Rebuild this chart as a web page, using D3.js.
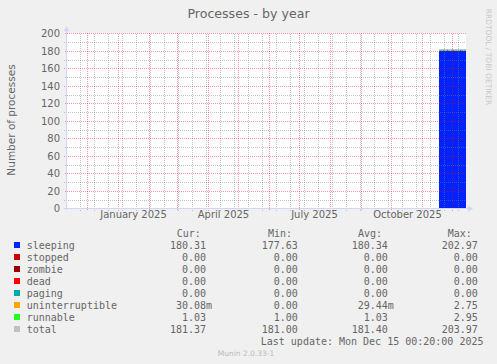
<!DOCTYPE html>
<html>
<head>
<meta charset="utf-8">
<script src="https://cdn.jsdelivr.net/npm/d3@7"></script>
<style>
  body { margin: 0; background: #f0f0f0; }
  svg { display: block; }
</style>
</head>
<body>
<div id="chart"></div>
<script>

// ---- data ----
var graphStart = "2024-11-10T00:20:00",
    graphEnd = "2025-12-15T00:20:00",
    firstDay = "2025-11-18T00:20:00";

var seriesNames = ["sleeping", "stopped", "zombie", "dead", "paging", "uninterruptible", "runnable", "total"];
var seriesColors = ["#0022ff", "#cc0000", "#990000", "#ff0000", "#00aaaa", "#ffa500", "#22ff22", "#c0c0c0"];

// one value per day, from firstDay to the end of the graph
var sleeping = [180.2, 180.4, 180.3, 180.1, 180.5, 180.3, 180.2, 180.4, 180.6, 180.3, 180.2, 180.1, 180.4, 180.3,
                180.5, 180.2, 180.3, 180.4, 180.1, 180.3, 180.2, 180.5, 180.3, 180.4, 180.2, 180.3, 180.31];
var runnable = [1.03, 1.02, 1.04, 1.03, 1.03, 1.02, 1.03, 1.04, 1.03, 1.03, 1.02, 1.03, 1.03, 1.04,
                1.03, 1.03, 1.02, 1.03, 1.03, 1.04, 1.03, 1.03, 1.02, 1.03, 1.03, 1.03, 1.03];
var uninterruptible = [0.03, 0.03, 0.03, 0.02, 0.03, 0.03, 0.03, 0.03, 0.04, 0.03, 0.03, 0.03, 0.03, 0.03,
                       0.03, 0.02, 0.03, 0.03, 0.03, 0.03, 0.03, 0.03, 0.03, 0.03, 0.03, 0.03, 0.03];
var total = [181.26, 181.45, 181.37, 181.15, 181.56, 181.35, 181.26, 181.47, 181.67, 181.36, 181.25, 181.16, 181.46, 181.37,
             181.56, 181.25, 181.35, 181.46, 181.16, 181.37, 181.26, 181.56, 181.35, 181.46, 181.26, 181.36, 181.37];

var curValues = [180.31, 0, 0, 0, 0, 0.03008, 1.03, 181.37];
var minValues = [177.63, 0, 0, 0, 0, 0, 1.00, 181.00];
var avgValues = [180.34, 0, 0, 0, 0, 0.02944, 1.03, 181.40];
var maxValues = [202.97, 0, 0, 0, 0, 2.75, 2.95, 203.97];

var yTicks = [0, 20, 40, 60, 80, 100, 120, 140, 160, 180, 200];
var xLabelDates = ["2025-01-16", "2025-04-16", "2025-07-16", "2025-10-17"];

var lastUpdate = "Last update: Mon Dec 15 00:20:00 2025";
var munin = "Munin 2.0.33-1";

// ---- layout ----
var W = 497, H = 364;
var pLeft = 66, pRight = 466, pTop = 33.3, pBottom = 208.3;

var svg = d3.select("#chart")
  .append("svg")
    .attr("width", W)
    .attr("height", H);

// dotted grid patterns (checkerboard, so one works for rows and columns)
var defs = svg.append("defs");
function dots(id, col, op) {
  var p = defs.append("pattern").attr("id", id)
    .attr("patternUnits", "userSpaceOnUse").attr("width", 2).attr("height", 2);
  p.append("rect").attr("x", 0).attr("y", 0).attr("width", 1).attr("height", 1).attr("fill", col).attr("fill-opacity", op);
  p.append("rect").attr("x", 1).attr("y", 1).attr("width", 1).attr("height", 1).attr("fill", col).attr("fill-opacity", op);
}
dots("minorDots", "#808080", 0.46);
dots("majorDots", "#ff0000", 0.4);

svg.append("rect").attr("width", W).attr("height", H).attr("fill", "#f0f0f0");

var parse = d3.isoParse;
var x = d3.scaleTime()
  .domain([parse(graphStart), parse(graphEnd)])
  .range([pLeft, pRight]);
var y = d3.scaleLinear()
  .domain([0, 200])
  .range([pBottom, pTop]);

// canvas
svg.append("rect")
  .attr("x", pLeft).attr("y", pTop)
  .attr("width", pRight - pLeft).attr("height", pBottom - pTop)
  .attr("fill", "#ffffff");

// ---- stacked areas ----
var days = sleeping.map(function(d, i) { return d3.timeDay.offset(parse(firstDay), i); });
var rows = days.map(function(d, i) {
  return { date: d, sleeping: sleeping[i], uninterruptible: uninterruptible[i], runnable: runnable[i], total: total[i] };
});
// closing point for the step shape
rows.push({ date: x.domain()[1], sleeping: sleeping[sleeping.length - 1], uninterruptible: uninterruptible[uninterruptible.length - 1],
            runnable: runnable[runnable.length - 1], total: total[total.length - 1] });

var stack = d3.stack().keys(["sleeping", "uninterruptible", "runnable"]);
var stacked = stack(rows);
var stackColors = { sleeping: "#0022ff", uninterruptible: "#ffa500", runnable: "#22ff22" };

var area = d3.area()
  .curve(d3.curveStepAfter)
  .x(function(d) { return x(d.data.date); })
  .y0(function(d) { return y(d[0]); })
  .y1(function(d) { return y(d[1]); });

svg.append("g").selectAll("path").data(stacked).enter().append("path")
  .attr("d", area)
  .attr("fill", function(d) { return stackColors[d.key]; });

svg.append("path")
  .datum(rows)
  .attr("fill", "none")
  .attr("stroke", "#c0c0c0")
  .attr("stroke-width", 1)
  .attr("d", d3.line().curve(d3.curveStepAfter)
    .x(function(d) { return x(d.date); })
    .y(function(d) { return y(d.total); }));

// ---- grid (drawn over the areas, like rrdtool) ----
var grid = svg.append("g").attr("shape-rendering", "crispEdges");

function hLine(vals, fill) {
  grid.selectAll(null).data(vals).enter().append("rect")
    .attr("x", pLeft - 2).attr("width", pRight - pLeft + 2)
    .attr("y", function(d) { return Math.round(y(d)); }).attr("height", 1)
    .attr("fill", fill);
}
function vLine(vals, fill) {
  grid.selectAll(null).data(vals).enter().append("rect")
    .attr("x", function(d) { return Math.round(x(d)); }).attr("width", 1)
    .attr("y", Math.round(pTop)).attr("height", Math.round(pBottom) - Math.round(pTop) + 3)
    .attr("fill", fill);
}

var minorY = d3.range(10, 200, 20);
var minorX = [];
for (var t = d3.isoParse("2024-11-24T00:00:00"); t < x.domain()[1]; t = d3.timeDay.offset(t, 14)) minorX.push(t);
var months = d3.timeMonth.range(x.domain()[0], x.domain()[1]);

hLine(minorY, "url(#minorDots)");
vLine(minorX, "url(#minorDots)");
hLine(yTicks.slice(1), "url(#majorDots)");
vLine(months, "url(#majorDots)");

// ---- axes ----
var axisCol = "#cfd6f8";
svg.append("line").attr("x1", pLeft + 0.5).attr("x2", pLeft + 0.5).attr("y1", pBottom + 2).attr("y2", pTop - 3)
  .attr("stroke", axisCol).attr("shape-rendering", "crispEdges");
svg.append("line").attr("x1", pLeft - 2).attr("x2", pRight + 3).attr("y1", Math.round(pBottom) + 0.5).attr("y2", Math.round(pBottom) + 0.5)
  .attr("stroke", axisCol).attr("shape-rendering", "crispEdges");
svg.append("path").attr("d", "M" + (pLeft - 2.5) + "," + (pTop - 2) + "L" + (pLeft + 0.5) + "," + (pTop - 7) + "L" + (pLeft + 3.5) + "," + (pTop - 2) + "Z")
  .attr("fill", axisCol);
svg.append("path").attr("d", "M" + (pRight + 2) + "," + (pBottom - 2.5) + "L" + (pRight + 7) + "," + (pBottom + 0.5) + "L" + (pRight + 2) + "," + (pBottom + 3.5) + "Z")
  .attr("fill", axisCol);

var yAxis = svg.append("g")
  .attr("transform", "translate(" + pLeft + ",0)")
  .call(d3.axisLeft(y).tickValues(yTicks).tickSize(0).tickPadding(6));
yAxis.select(".domain").remove();
yAxis.selectAll("text").attr("font-family", "DejaVu Sans").attr("font-size", "10px").attr("fill", "#666666");

var xAxis = svg.append("g")
  .attr("transform", "translate(0," + pBottom + ")")
  .call(d3.axisBottom(x).tickValues(xLabelDates.map(function(d) { return parse(d + "T00:00:00"); }))
    .tickSize(0).tickPadding(3).tickFormat(d3.timeFormat("%B %Y")));
xAxis.select(".domain").remove();
xAxis.selectAll("text").attr("font-family", "DejaVu Sans").attr("font-size", "10px").attr("fill", "#666666");

// ---- titles ----
svg.append("text")
  .attr("x", 248.5).attr("y", 18)
  .attr("text-anchor", "middle")
  .attr("font-family", "DejaVu Sans").attr("font-size", "12.6px").attr("fill", "#666666")
  .text("Processes - by year");

svg.append("text")
  .attr("transform", "translate(15,120) rotate(-90)")
  .attr("text-anchor", "middle")
  .attr("font-family", "DejaVu Sans").attr("font-size", "10.5px").attr("fill", "#666666")
  .text("Number of processes");

svg.append("text")
  .attr("transform", "translate(485.5,57) rotate(90)")
  .attr("text-anchor", "middle")
  .attr("font-family", "DejaVu Sans").attr("font-size", "7.5px").attr("fill", "#c8c8c8")
  .text("RRDTOOL / TOBI OETIKER");

// ---- legend ----
var mono = "DejaVu Sans Mono";
var colStarts = [170, 261.7, 351.7, 441.7];
var headers = ["Cur:", "Min:", "Avg:", "Max:"];
var headerX = [176.7, 268, 358, 447.7];
var rowY0 = 249, rowH = 12;

function fmt(v) {
  var s = (v !== 0 && Math.abs(v) < 1) ? (v * 1000).toFixed(2) + "m" : v.toFixed(2) + " ";
  while (s.length < 7) s = " " + s;
  return s;
}

var legend = svg.append("g")
  .attr("font-family", mono).attr("font-size", "10px").attr("fill", "#666666");

legend.selectAll(".hdr").data(headers).enter().append("text")
  .attr("x", function(d, i) { return headerX[i]; })
  .attr("y", rowY0 - rowH)
  .text(function(d) { return d; });

var cols = [curValues, minValues, avgValues, maxValues];
seriesNames.forEach(function(name, i) {
  var yy = rowY0 + i * rowH;
  legend.append("rect")
    .attr("x", 14).attr("y", yy - 7).attr("width", 6).attr("height", 6)
    .attr("fill", seriesColors[i]);
  legend.append("text").attr("x", 26.7).attr("y", yy).text(name);
  cols.forEach(function(col, c) {
    legend.append("text")
      .attr("x", colStarts[c]).attr("y", yy)
      .attr("xml:space", "preserve")
      .style("white-space", "pre")
      .text(fmt(col[i]));
  });
});

legend.append("text")
  .attr("x", 483.5).attr("y", rowY0 + 8 * rowH)
  .attr("text-anchor", "end")
  .text(lastUpdate);

svg.append("text")
  .attr("x", 246).attr("y", 356)
  .attr("text-anchor", "middle")
  .attr("font-family", "DejaVu Sans").attr("font-size", "7.5px").attr("fill", "#bbbbbb")
  .text(munin);

</script>
</body>
</html>
